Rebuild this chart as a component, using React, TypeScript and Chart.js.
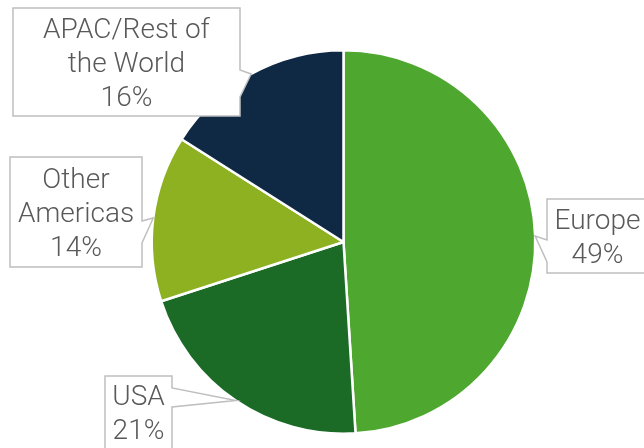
import React, { useEffect, useRef } from "react";
import { Chart, registerables } from "chart.js";

Chart.register(...registerables);

const categories = ["Europe", "USA", "Other Americas", "APAC/Rest of the World"];
const labelLines = [["Europe"], ["USA"], ["Other", "Americas"], ["APAC/Rest of", "the World"]];
const shares = [49, 21, 14, 16];
const colors = ["#4EA72E", "#1B6B27", "#8DB121", "#0F2944"];

type Callout = {
  x0: number; y0: number; x1: number; y1: number;
  side: "left" | "right";
  a1: number; a2: number;
};

// label box layout (positions only)
const callouts: Callout[] = [
  { x0: 547, y0: 199, x1: 648, y1: 273, side: "left", a1: 240, a2: 262 },
  { x0: 105, y0: 376, x1: 172, y1: 450, side: "right", a1: 388, a2: 407 },
  { x0: 10, y0: 157, x1: 142, y1: 267, side: "right", a1: 221, a2: 243 },
  { x0: 13, y0: 8, x1: 240, y1: 116, side: "right", a1: 70, a2: 97 },
];

const calloutPlugin = {
  id: "callouts",
  afterDatasetsDraw(chart: any) {
    const ctx = chart.ctx as CanvasRenderingContext2D;
    const meta = chart.getDatasetMeta(0);
    const data = chart.data.datasets[0].data as number[];
    meta.data.forEach((arc: any, i: number) => {
      const p = arc.getProps(["x", "y", "startAngle", "endAngle", "outerRadius"], true);
      const mid = (p.startAngle + p.endAngle) / 2;
      const tx = p.x + Math.cos(mid) * p.outerRadius;
      const ty = p.y + Math.sin(mid) * p.outerRadius;
      const c = callouts[i];
      ctx.save();
      ctx.beginPath();
      ctx.moveTo(c.x0, c.y0);
      ctx.lineTo(c.x1, c.y0);
      if (c.side === "right") {
        ctx.lineTo(c.x1, c.a1);
        ctx.lineTo(tx, ty);
        ctx.lineTo(c.x1, c.a2);
      }
      ctx.lineTo(c.x1, c.y1);
      ctx.lineTo(c.x0, c.y1);
      if (c.side === "left") {
        ctx.lineTo(c.x0, c.a2);
        ctx.lineTo(tx, ty);
        ctx.lineTo(c.x0, c.a1);
      }
      ctx.closePath();
      ctx.fillStyle = "#ffffff";
      ctx.fill();
      ctx.lineWidth = 1.5;
      ctx.strokeStyle = "#BFBFBF";
      ctx.lineJoin = "miter";
      ctx.stroke();

      const lines = [...labelLines[i], `${data[i]}%`];
      const lh = 34;
      const cx = (c.x0 + c.x1) / 2;
      const cy = (c.y0 + Math.min(c.y1, 448)) / 2;
      ctx.fillStyle = "#595959";
      ctx.font = "300 28px Roboto";
      ctx.textAlign = "center";
      ctx.textBaseline = "alphabetic";
      lines.forEach((t, k) => {
        const by = cy - ((lines.length - 1) / 2) * lh + k * lh + 10;
        ctx.fillText(t, cx, by);
      });
      ctx.restore();
    });
  },
};

export default function App() {
  const ref = useRef<HTMLCanvasElement | null>(null);
  useEffect(() => {
    if (!ref.current) return;
    const chart = new Chart(ref.current, {
      type: "pie",
      data: {
        labels: categories,
        datasets: [
          {
            data: shares,
            backgroundColor: colors,
            borderColor: "#ffffff",
            borderWidth: 2.5,
          },
        ],
      },
      options: {
        animation: false,
        responsive: false,
        layout: { padding: { left: 150, right: 107, top: 49, bottom: 13 } },
        plugins: {
          legend: { display: false },
          tooltip: { enabled: false },
        },
      },
      plugins: [calloutPlugin],
    });
    return () => chart.destroy();
  }, []);
  return (
    <div style={{ position: "fixed", left: 0, top: 0, width: 644, height: 448, background: "#fff" }}>
      <canvas ref={ref} width={644} height={448} />
    </div>
  );
}
